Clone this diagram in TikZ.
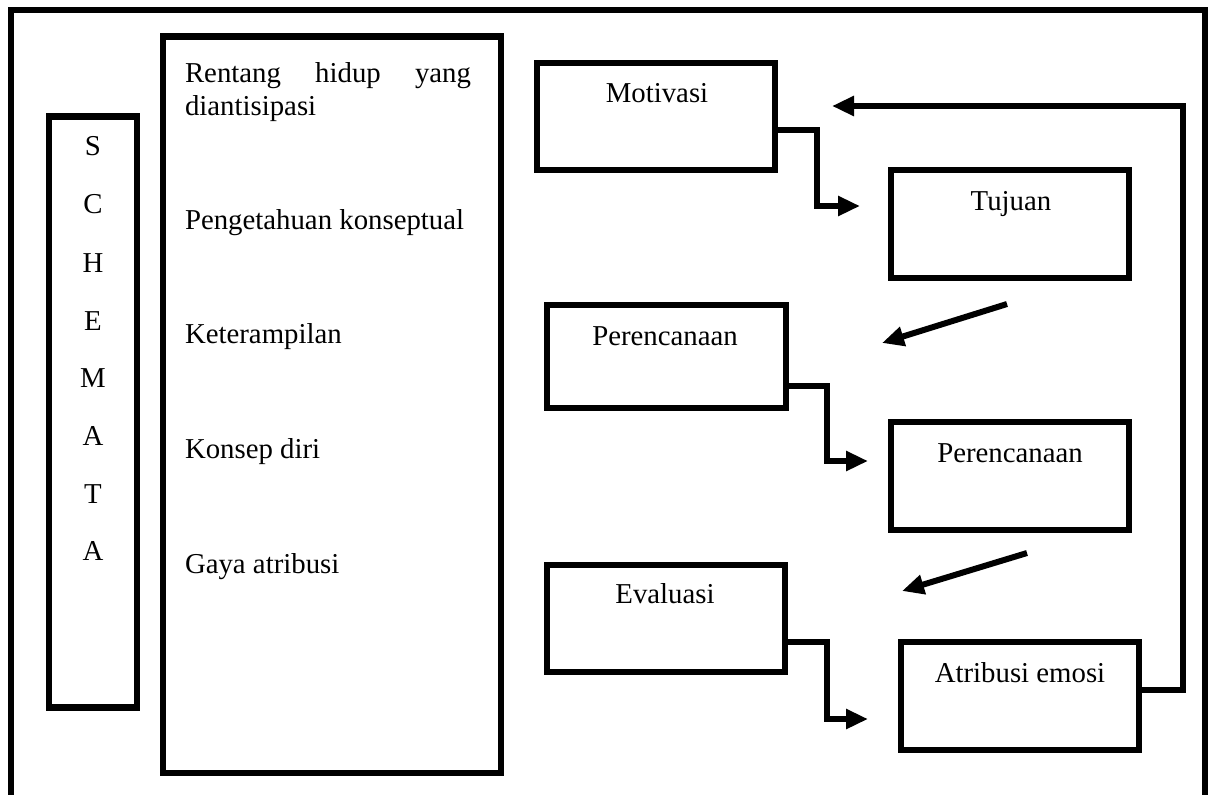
\documentclass[tikz,border=0pt]{standalone}
\usepackage{fontspec}
\setmainfont{Liberation Serif}
\usetikzlibrary{arrows.meta}
\begin{document}
\begin{tikzpicture}[x=0.5pt,y=-0.5pt,
  frame/.style={line width=3pt, line join=miter},
  box/.style={draw, line width=3.25pt, inner sep=0pt, outer sep=0pt, anchor=north west},
  conn/.style={line width=3pt, line join=miter, -{Triangle[length=11pt,width=9.5pt]}},
  txt/.style={font=\fontsize{14.4}{17}\selectfont, inner sep=0pt, outer sep=0pt},
  lbl/.style={txt, anchor=base},
  item/.style={txt, anchor=base west}
]
\useasboundingbox (0,0) rectangle (1213,794);
\clip (0,0) rectangle (1213,794);
% outer frame (open at the bottom)
\draw[frame] (11,830) -- (11,10) -- (1205,10) -- (1205,830);

% SCHEMATA column
\node[box, minimum width=44pt, minimum height=295.5pt] (sch) at (49,116.5) {};
\foreach \l/\y [count=\i] in {S/155,C/213,H/272,E/330,M/387,A/445,T/503,A/560}
  \node[lbl] (s\i) at (93,\y) {\l};

% list box
\node[box, minimum width=169pt, minimum height=368.25pt] (lst) at (163,36.5) {};
\node[item] (l1a) at (185,82) {\makebox[143pt][s]{Rentang hidup yang}};
\node[item] (l1b) at (185,115) {diantisipasi};
\node[item] (l2) at (185,229) {Pengetahuan konseptual};
\node[item] (l3) at (185,343) {Keterampilan};
\node[item] (l4) at (185,458) {Konsep diri};
\node[item] (l5) at (185,573) {Gaya atribusi};

% process boxes
\node[box, minimum width=119pt, minimum height=53.5pt] (mot) at (537,63) {};
\node[lbl] (tmot) at (657,102) {Motivasi};
\node[box, minimum width=119pt, minimum height=54pt] (tuj) at (891,170) {};
\node[lbl] (ttuj) at (1011,210) {Tujuan};
\node[box, minimum width=119.5pt, minimum height=51.5pt] (per1) at (547,305) {};
\node[lbl] (tper1) at (665,345) {Perencanaan};
\node[box, minimum width=119pt, minimum height=54pt] (per2) at (891,422) {};
\node[lbl] (tper2) at (1010,462) {Perencanaan};
\node[box, minimum width=119pt, minimum height=53.5pt] (eva) at (547,565) {};
\node[lbl] (teva) at (665,603) {Evaluasi};
\node[box, minimum width=119pt, minimum height=54pt] (atr) at (901,642) {};
\node[lbl] (tatr) at (1020,682) {Atribusi emosi};

% connector end points
\coordinate (t1) at (860,206);
\coordinate (d1s) at (1007,304);
\coordinate (d1e) at (882,343);
\coordinate (t3) at (868,461);
\coordinate (d2s) at (1027,553);
\coordinate (d2e) at (902,591);
\coordinate (t5) at (868,719);
\coordinate (t6) at (832,106);

% connectors
\draw[conn] ([yshift=-6.75pt]mot.east) -| ([xshift=-21.5pt]t1) -- (t1);
\draw[conn] (d1s) -- (d1e);
\draw[conn] ([yshift=-14.75pt]per1.east) -| ([xshift=-20.5pt]t3) -- (t3);
\draw[conn] (d2s) -- (d2e);
\draw[conn] ([yshift=-11.75pt]eva.east) -| ([xshift=-20.5pt]t5) -- (t5);
\draw[conn] ([yshift=3pt]atr.east) -- ++(22pt,0) |- (t6);
\end{tikzpicture}
\end{document}
